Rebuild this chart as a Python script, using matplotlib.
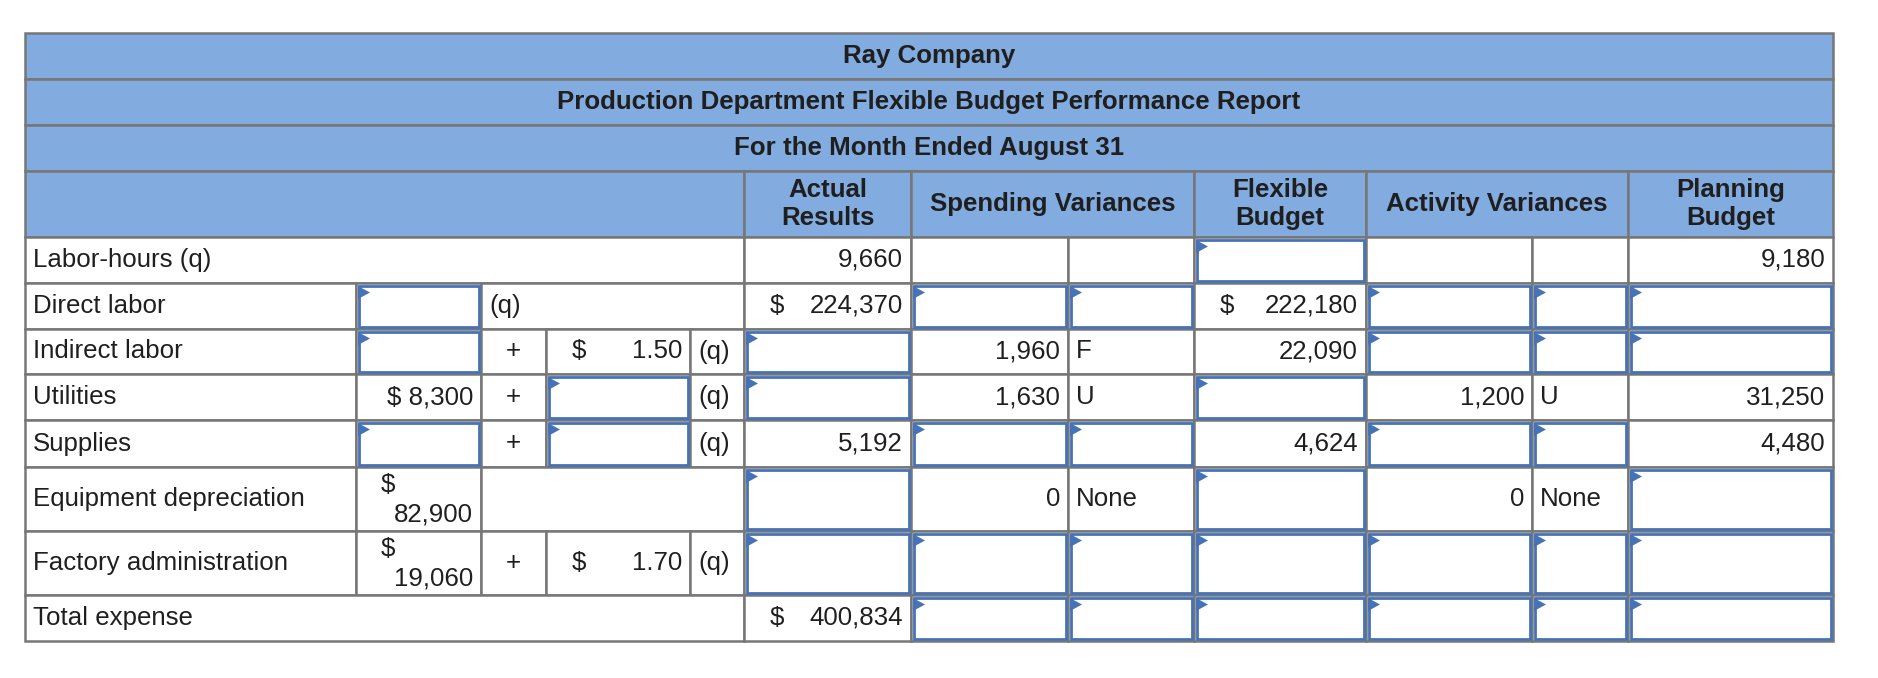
import matplotlib.pyplot as plt
from matplotlib.patches import Polygon, Rectangle

plt.rcParams["font.family"] = ["Liberation Sans", "DejaVu Sans"]

# ---- report content ----
title_lines = [
    "Ray Company",
    "Production Department Flexible Budget Performance Report",
    "For the Month Ended August 31",
]
column_headers = ["Actual\nResults", "Spending Variances", "Flexible\nBudget",
                  "Activity Variances", "Planning\nBudget"]
row_labels = ["Labor-hours (q)", "Direct labor", "Indirect labor", "Utilities", "Supplies",
              "Equipment depreciation", "Factory administration", "Total expense"]

BOX = None  # an empty input box

# cost formula: fixed part, "+", rate per labor-hour, "(q)"
fixed_part = ["", BOX, BOX, "$ 8,300", BOX, "$\n82,900", "$\n19,060", ""]
rate_part = ["", "", "1.50", BOX, BOX, "", "1.70", ""]
actual_results = ["9,660", "224,370", BOX, BOX, "5,192", BOX, BOX, "400,834"]
spending_amount = ["", BOX, "1,960", "1,630", BOX, "0", BOX, BOX]
spending_flag = ["", BOX, "F", "U", BOX, "None", BOX, BOX]
flexible_budget = [BOX, "222,180", "22,090", BOX, "4,624", BOX, BOX, BOX]
activity_amount = ["", BOX, BOX, "1,200", BOX, "0", BOX, BOX]
activity_flag = ["", BOX, BOX, "U", BOX, "None", BOX, BOX]
planning_budget = ["9,180", BOX, BOX, "31,250", "4,480", BOX, BOX, BOX]
dollar_rows_actual = [1, 7]
dollar_rows_flexible = [1]

# ---- layout (pixels) ----
W, H = 1878, 678
X = [25, 356, 481, 546, 690, 744, 911, 1068, 1194, 1366, 1532, 1628, 1833]
Y = [33, 79, 125, 171, 237, 283, 329, 374, 420, 467, 531, 595, 641]
HEAD_BLUE = "#82abdf"
GRID = "#777777"
BOX_BLUE = "#4673b8"
INK = "#1f1f1f"
FS = 18.6
PAD = 8
DOLLAR_OFF = 26

fig = plt.figure(figsize=(W / 100, H / 100), dpi=100)
ax = fig.add_axes([0, 0, 1, 1])
ax.set_xlim(0, W)
ax.set_ylim(H, 0)
ax.axis("off")


def cell(c0, c1, r, fill="white"):
    x0, x1, y0, y1 = X[c0], X[c1 + 1], Y[r], Y[r + 1]
    ax.add_patch(Rectangle((x0, y0), x1 - x0, y1 - y0, facecolor=fill,
                           edgecolor=GRID, linewidth=1.8, zorder=1))
    return x0, x1, y0, y1


def box(c, r):
    x0, x1, y0, y1 = cell(c, c, r)
    ax.add_patch(Rectangle((x0 + 2.5, y0 + 2.5), x1 - x0 - 5, y1 - y0 - 5, facecolor="white",
                           edgecolor=BOX_BLUE, linewidth=2.0, zorder=2))
    tx = x0 + 2
    ax.add_patch(Polygon([(tx, y0 + 3), (tx, y0 + 16), (tx + 12, y0 + 9.5)], closed=True,
                         facecolor=BOX_BLUE, edgecolor="none", zorder=3))


def put(c0, c1, r, text, align="right", dollar=False):
    if text is BOX:
        box(c0, r)
        return
    x0, x1, y0, y1 = cell(c0, c1, r)
    ym = (y0 + y1) / 2
    if "\n" in text:
        top, bottom = text.split("\n")
        ax.text(x0 + DOLLAR_OFF - 1, y0 + (y1 - y0) * 0.28, top, ha="left", va="center",
                fontsize=FS, color=INK)
        ax.text(x1 - PAD, y0 + (y1 - y0) * 0.74, bottom, ha="right", va="center",
                fontsize=FS, color=INK)
        return
    if dollar:
        ax.text(x0 + DOLLAR_OFF, ym, "$", ha="left", va="center", fontsize=FS, color=INK)
    if align == "right":
        ax.text(x1 - PAD, ym, text, ha="right", va="center", fontsize=FS, color=INK)
    elif align == "center":
        ax.text((x0 + x1) / 2, ym, text, ha="center", va="center", fontsize=FS, color=INK)
    else:
        ax.text(x0 + PAD, ym, text, ha="left", va="center", fontsize=FS, color=INK)


# title rows
for r, line in enumerate(title_lines):
    x0, x1, y0, y1 = cell(0, 11, r, HEAD_BLUE)
    ax.text((x0 + x1) / 2, (y0 + y1) / 2, line, ha="center", va="center",
            fontsize=FS, fontweight="bold", color=INK)

# column header row
cell(0, 4, 3, HEAD_BLUE)
for text, (c0, c1) in zip(column_headers, [(5, 5), (6, 7), (8, 8), (9, 10), (11, 11)]):
    x0, x1, y0, y1 = cell(c0, c1, 3, HEAD_BLUE)
    ax.text((x0 + x1) / 2, (y0 + y1) / 2, text, ha="center", va="center",
            fontsize=FS, fontweight="bold", color=INK, linespacing=1.22)

# body rows
for i, label in enumerate(row_labels):
    r = i + 4
    if i in (0, 7):
        put(0, 4, r, label, align="left")
    else:
        put(0, 0, r, label, align="left")
        put(1, 1, r, fixed_part[i])
        if i == 1:
            put(2, 4, r, "(q)", align="left")
        elif i == 5:
            put(2, 4, r, "")
        else:
            put(2, 2, r, "+", align="center")
            put(3, 3, r, rate_part[i], dollar=isinstance(rate_part[i], str))
            put(4, 4, r, "(q)", align="left")
    put(5, 5, r, actual_results[i], dollar=i in dollar_rows_actual)
    put(6, 6, r, spending_amount[i])
    put(7, 7, r, spending_flag[i], align="left")
    put(8, 8, r, flexible_budget[i], dollar=i in dollar_rows_flexible)
    put(9, 9, r, activity_amount[i])
    put(10, 10, r, activity_flag[i], align="left")
    put(11, 11, r, planning_budget[i])

fig.savefig("out.png", dpi=100, facecolor="white")
